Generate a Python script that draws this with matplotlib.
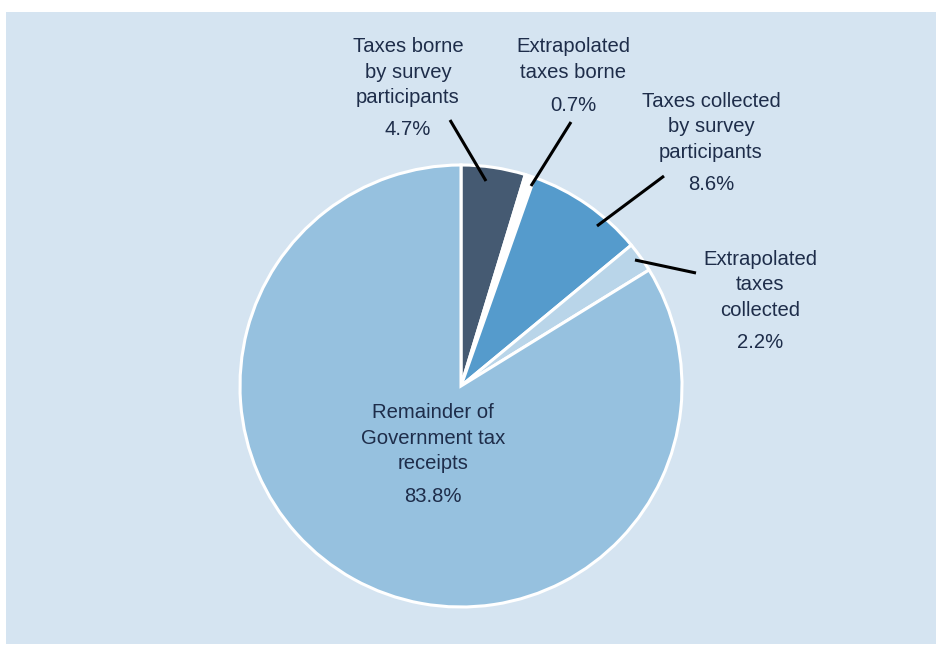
import matplotlib
matplotlib.use("Agg")
import matplotlib.pyplot as plt
from matplotlib.patches import Rectangle

plt.rcParams['font.family'] = ['Liberation Sans', 'DejaVu Sans']

categories = ["Taxes borne\nby survey\nparticipants",
              "Extrapolated\ntaxes borne",
              "Taxes collected\nby survey\nparticipants",
              "Extrapolated\ntaxes\ncollected",
              "Remainder of\nGovernment tax\nreceipts"]
values = [4.7, 0.7, 8.6, 2.2, 83.8]
pct_labels = ["4.7%", "0.7%", "8.6%", "2.2%", "83.8%"]
colors = ["#455a72", "#ffffff", "#559bcc", "#b9d5e9", "#96c1df"]

W, H = 936, 646
fig = plt.figure(figsize=(W / 100, H / 100), dpi=100)
fig.patch.set_facecolor("white")
ax = fig.add_axes([0, 0, 1, 1])
ax.axis("off")

def Y(y):
    return H - y

ax.add_patch(Rectangle((6, Y(644)), 930, 632, facecolor="#d5e4f1", edgecolor="none", zorder=0))

cx, cy, r = 461, 386, 221
ax.pie(values, colors=colors, startangle=90, counterclock=False,
       center=(cx, Y(cy)), radius=r,
       wedgeprops=dict(edgecolor="white", linewidth=2.2), frame=False)

ax.set_xlim(0, W)
ax.set_ylim(0, H)
ax.set_aspect("equal")

txt_color = "#1e2d4a"
fs = 14.6
line_step = 25.5
# (x centre, baseline of first line, baseline of pct)
label_pos = [(408, 52, 135), (573, 52, 111), (711, 107, 190), (760, 265, 348), (433, 418, 502)]
for cat, pct, (x, y0, yp) in zip(categories, pct_labels, label_pos):
    for k, line in enumerate(cat.split("\n")):
        ax.text(x, Y(y0 + k * line_step), line, ha="center", va="baseline",
                fontsize=fs, color=txt_color, zorder=5)
    ax.text(x, Y(yp), pct, ha="center", va="baseline", fontsize=fs, color=txt_color, zorder=5)

leaders = [((450, 120), (486, 181)),
           ((571, 122), (531, 186)),
           ((664, 176), (597, 226)),
           ((696, 273), (635, 260))]
for (x1, y1), (x2, y2) in leaders:
    ax.plot([x1, x2], [Y(y1), Y(y2)], color="black", lw=2.2, zorder=4, solid_capstyle="butt")

fig.savefig("out.png", dpi=100, facecolor=fig.get_facecolor())
